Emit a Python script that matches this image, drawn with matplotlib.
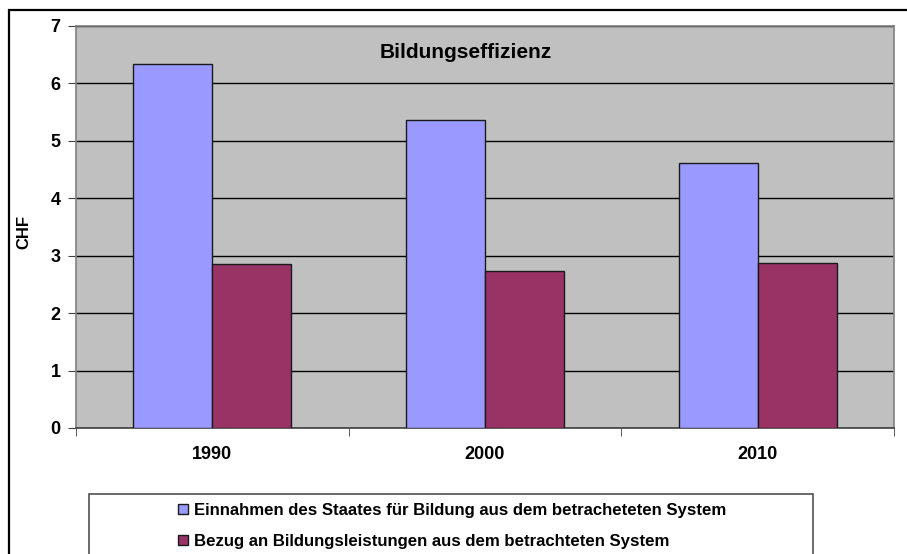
import matplotlib
matplotlib.use("Agg")
import matplotlib.pyplot as plt
from matplotlib.patches import Rectangle
import numpy as np

years = ["1990", "2000", "2010"]
einnahmen = [6.33, 5.37, 4.61]
bezug = [2.85, 2.73, 2.87]
series_labels = [
    "Einnahmen des Staates für Bildung aus dem betracheteten System",
    "Bezug an Bildungsleistungen aus dem betrachteten System",
]
y_ticks = [0, 1, 2, 3, 4, 5, 6, 7]

W, H = 907, 554
plt.rcParams["font.family"] = ["Liberation Sans", "DejaVu Sans"]
plt.rcParams["font.weight"] = "bold"

fig = plt.figure(figsize=(W / 100, H / 100), dpi=100)
fig.patch.set_facecolor("white")

# outer chart frame (runs off the right / bottom edge like in the original)
fig.patches.append(Rectangle((9 / W, -0.1), 1.2, 1 - 10 / H + 0.1, transform=fig.transFigure,
                             fill=False, edgecolor="black", linewidth=1.6, zorder=0))

ax = fig.add_axes([76 / W, 1 - 428 / H, 818 / W, 402 / H])
ax.set_facecolor("#C0C0C0")

x = np.arange(len(years))
bw = 0.29
ax.bar(x - bw / 2, einnahmen, width=bw, color="#9999FF", edgecolor="#1a1a1a", linewidth=1.0,
       label=series_labels[0], zorder=3)
ax.bar(x + bw / 2, bezug, width=bw, color="#993366", edgecolor="#1a1a1a", linewidth=1.0,
       label=series_labels[1], zorder=3)

ax.set_xlim(-0.5, len(years) - 0.5)
ax.set_ylim(0, 7)
ax.set_yticks(y_ticks)
ax.set_yticklabels([str(t) for t in y_ticks], fontsize=13, fontweight="bold")
ax.set_xticks(x)
ax.set_xticklabels(years, fontsize=13, fontweight="bold")
ax.tick_params(axis="x", length=0, pad=13)
ax.set_xticks(np.arange(-0.5, len(years)), minor=True)
ax.tick_params(axis="x", which="minor", length=6, color="#404040", direction="out")
ax.tick_params(axis="y", length=6, color="#404040", direction="out", pad=5)

ax.grid(axis="y", color="black", linewidth=1.0, zorder=1)
ax.set_axisbelow(True)
for side in ["top", "right", "left"]:
    ax.spines[side].set_color("#808080")
    ax.spines[side].set_linewidth(1.2)
ax.spines["bottom"].set_color("#404040")
ax.spines["bottom"].set_linewidth(1.2)

ax.set_ylabel("CHF", fontsize=12, fontweight="bold")
ax.yaxis.set_label_coords(-0.055, 0.488)
ax.text(0.477, 0.933, "Bildungseffizienz", transform=ax.transAxes, ha="center", va="center",
        fontsize=15, fontweight="bold")

# legend box
fig.patches.append(Rectangle((89 / W, -0.1), 724 / W, 0.1 + 1 - 494 / H, transform=fig.transFigure,
                             fill=False, edgecolor="#505050", linewidth=1.2, zorder=1))
handles, labels = ax.get_legend_handles_labels()
fig.legend(handles, labels, loc="upper left", bbox_to_anchor=(178 / W, 1 - 503 / H),
           frameon=False, fontsize=12.1, handlelength=0.6, handleheight=0.6,
           handletextpad=0.35, labelspacing=0.95, borderpad=0, borderaxespad=0)

fig.savefig("out.png", dpi=100)
